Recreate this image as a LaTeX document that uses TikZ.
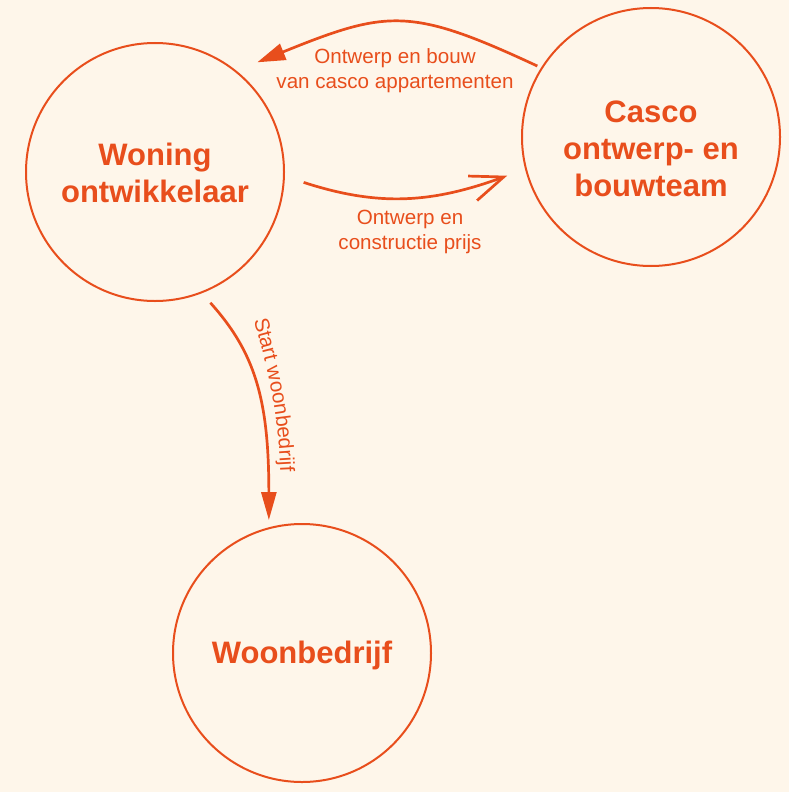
\documentclass[tikz,border=0pt]{standalone}
\usepackage{fontspec}
\setmainfont{Liberation Sans}
\usetikzlibrary{arrows.meta,decorations.text}
\definecolor{org}{HTML}{E84E1C}
\definecolor{bgc}{HTML}{FEF6EA}
\newcommand{\bigfont}{\fontsize{31}{37}\selectfont\bfseries}
\newcommand{\lblfont}{\fontsize{20.6}{25}\selectfont}
\begin{document}
\begin{tikzpicture}[x=1pt,y=1pt,
  circ/.style={circle,draw=org,line width=2pt,minimum size=258pt,inner sep=0pt,outer sep=0pt},
  bigtxt/.style={text=org,font=\bigfont,align=center,inner sep=0pt},
  lbl/.style={text=org,font=\lblfont,align=center,inner sep=0pt},
  conn/.style={draw=org,line width=2.7pt}]
\fill[bgc] (0,0) rectangle (789,-792);
\useasboundingbox (0,0) rectangle (789,-792);
\node[circ] (W) at (155,-172) {};
\node[circ] (C) at (651,-137) {};
\node[circ] (B) at (302,-653) {};
\node[bigtxt] (Wt) at ([yshift=-1pt]W) {Woning\\ontwikkelaar};
\node[bigtxt] (Ct) at ([yshift=-12pt]C) {Casco\\ontwerp- en\\bouwteam};
\node[bigtxt] (Bt) at ([yshift=-2pt]B) {Woonbedrijf};
% top arrow
\draw[conn,-{Triangle[length=28pt,width=17pt]}]
  ([shift={(148.5:5pt)}]C.148.5) to[out=155,in=22,looseness=1.28] ([shift={(47:21pt)}]W.47);
% bottom arrow
\draw[conn,-{Straight Barb[length=33pt,width=26pt,line width=2.7pt]}]
  ([shift={(-4:20pt)}]W.-4) to[out=-18,in=200] ([shift={(195.5:20pt)}]C.195.5);
% down arrow
\draw[conn,-{Triangle[length=28pt,width=15pt]}]
  ([shift={(-67.6:13pt)}]W.-67.6) .. controls +(45pt,-50pt) and +(0pt,120pt) .. ([shift={(104:8pt)}]B.104);
\node[lbl] (L1) at (395,-71) {Ontwerp en bouw\\van casco appartementen};
\node[lbl] (L2) at (410,-232) {Ontwerp en\\constructie prijs};
\coordinate (s1) at (254,-320);
\coordinate (s2) at (281,-492);
\path[decorate,decoration={text along path,text={|\lblfont|Start woonbedrijf},text color=org,text align=left}]
  (s1) .. controls (266,-365) and (280,-410) .. (s2);
\end{tikzpicture}
\end{document}
